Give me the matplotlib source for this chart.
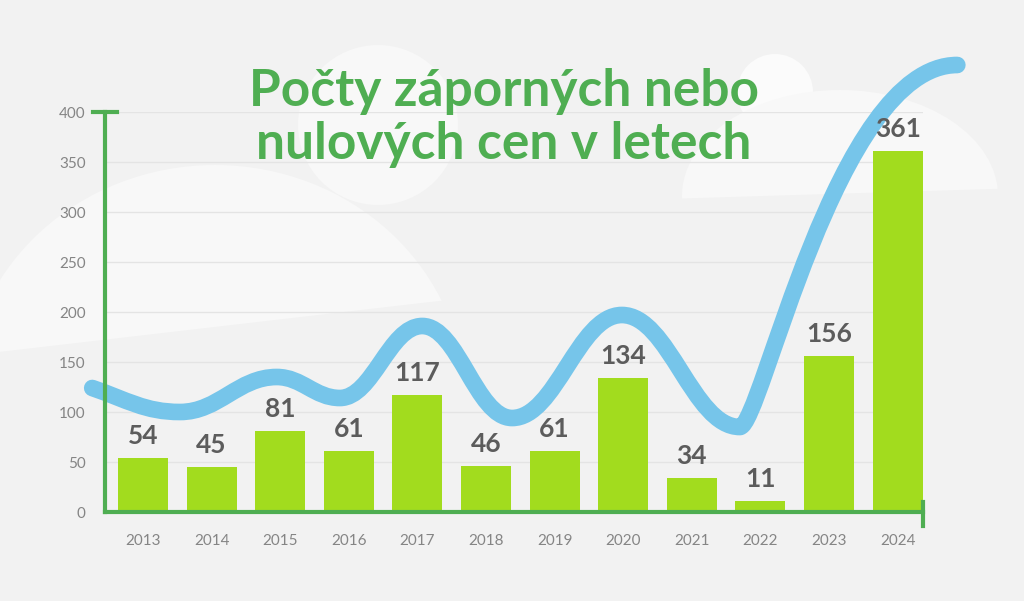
import numpy as np
import matplotlib
matplotlib.use('Agg')
import matplotlib.pyplot as plt
from matplotlib.path import Path
from matplotlib.patches import PathPatch, Ellipse, Circle, Polygon
from matplotlib.transforms import blended_transform_factory

# data
years = ['2013', '2014', '2015', '2016', '2017', '2018', '2019', '2020', '2021', '2022', '2023', '2024']
counts = [54, 45, 81, 61, 117, 46, 61, 134, 34, 11, 156, 361]
y_ticks = [0, 50, 100, 150, 200, 250, 300, 350, 400]
title = 'Počty záporných nebo\nnulových cen v letech'

# decorative wave: key points (x in bar positions, y in chart units)
wave_x = [-0.74, 0.54, 1.95, 2.87, 4.07, 5.38, 6.98, 8.70, 11.87]
wave_y = [124, 100, 135, 114, 186, 94, 197, 85, 447]

bg_col = '#f2f2f2'
shape_col = '#f8f8f8'
green = '#4fae52'
bar_col = '#a2dc1e'
blue = '#76c5ea'
label_col = '#5c5c5c'
tick_col = '#858585'

plt.rcParams['font.family'] = ['Lato', 'DejaVu Sans']

fig = plt.figure(figsize=(10.24, 6.01), dpi=100)
fig.patch.set_facecolor(bg_col)

# background shapes, pixel coordinates
bg = fig.add_axes([0, 0, 1, 1])
bg.set_xlim(0, 1024)
bg.set_ylim(601, 0)
bg.axis('off')
big = Ellipse((215, 400), 500, 470, color=shape_col, lw=0)
bg.add_patch(big)
big.set_clip_path(Polygon([(-10, 0), (1024, 0), (1024, 240), (430, 302), (-10, 353)], transform=bg.transData))
bg.add_patch(Circle((378, 125), 80, color=shape_col, lw=0))
bg.add_patch(Circle((775, 92), 38, color='#fbfbfb', lw=0))
right = Ellipse((840, 196), 316, 212, color=shape_col, lw=0)
bg.add_patch(right)
right.set_clip_path(Polygon([(600, 0), (1024, 0), (1024, 188), (600, 201)], transform=bg.transData))

ax = fig.add_axes([105 / 1024, (601 - 512) / 601, (923 - 105) / 1024, 400 / 601])
ax.patch.set_alpha(0)
x = np.arange(len(years))
ax.set_xlim(-0.554, 11.37)
ax.set_ylim(0, 400)

for s in ['top', 'right']:
    ax.spines[s].set_visible(False)
for s in ['left', 'bottom']:
    ax.spines[s].set_color(green)
    ax.spines[s].set_linewidth(3)
    ax.spines[s].set_zorder(5)

trans = blended_transform_factory(ax.transAxes, ax.transData)
ax.plot([-0.0147, 0.0147], [400, 400], color=green, lw=3, transform=trans, clip_on=False, zorder=5)
ax.plot([1, 1], [-14, 10], color=green, lw=3, transform=trans, clip_on=False, zorder=5)

ax.set_yticks(y_ticks)
ax.set_xticks(x)
ax.set_xticklabels(years)
ax.tick_params(axis='y', length=0, pad=14, labelsize=11, labelcolor=tick_col)
ax.tick_params(axis='x', length=0, pad=16, labelsize=11, labelcolor=tick_col)
ax.grid(axis='y', color='#e4e4e4', lw=1, zorder=0)
ax.set_axisbelow(True)

# wave built from cubic segments, flat tangents at extremes
n_seg = len(wave_x) - 1
verts = [(wave_x[0], wave_y[0])]
codes = [Path.MOVETO]
for i in range(n_seg):
    x0, y0, x1, y1 = wave_x[i], wave_y[i], wave_x[i + 1], wave_y[i + 1]
    dx = x1 - x0
    if i == 0:
        c1 = (x0 + 0.4 * dx, y0 - 12)
        c2 = (x1 - 0.4 * dx, y1)
    elif i == n_seg - 1:
        c1 = (x0 + 0.10 * dx, y0)
        c2 = (x1 - 0.56 * dx, y1)
    else:
        c1 = (x0 + 0.4 * dx, y0)
        c2 = (x1 - 0.4 * dx, y1)
    verts += [c1, c2, (x1, y1)]
    codes += [Path.CURVE4] * 3
wave = PathPatch(Path(verts, codes), facecolor='none', edgecolor=blue, lw=12,
                 capstyle='round', joinstyle='round', clip_on=False, zorder=2)
ax.add_patch(wave)

ax.bar(x, counts, width=0.73, color=bar_col, zorder=3)
for xi, v in zip(x, counts):
    ax.text(xi, v + 10, str(v), ha='center', va='bottom', fontsize=19,
            fontweight='bold', color=label_col, zorder=4)

fig.text(504 / 1024, 1 - 118 / 601, title, ha='center', va='center', fontsize=37,
         fontweight='bold', color=green, linespacing=1.15)

fig.savefig('out.png', dpi=100, facecolor=bg_col)
